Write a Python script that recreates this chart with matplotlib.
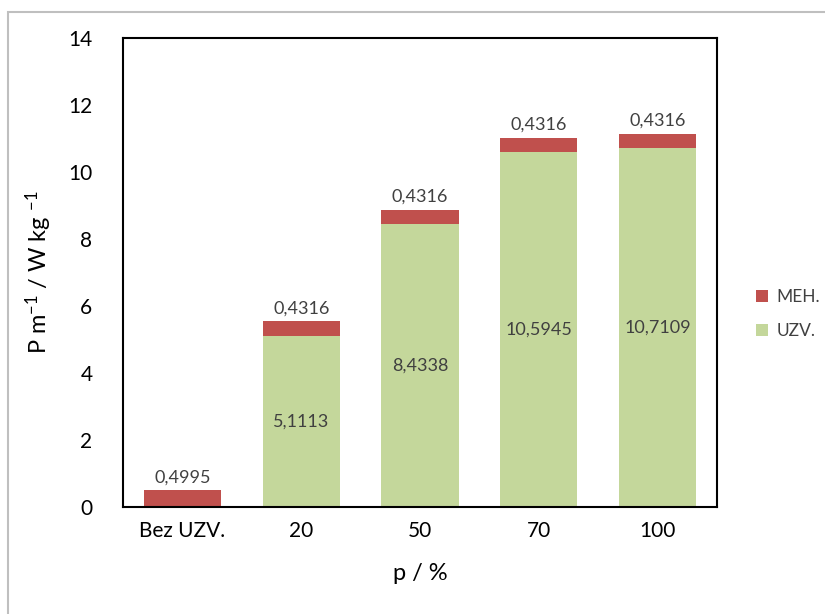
import matplotlib.pyplot as plt
from matplotlib.patches import Rectangle

# data
categories = ['Bez UZV.', '20', '50', '70', '100']
uzv = [0, 5.1113, 8.4338, 10.5945, 10.7109]
meh = [0.4995, 0.4316, 0.4316, 0.4316, 0.4316]

red = '#C0504D'
green = '#C4D79B'
txt = '#404040'

plt.rcParams['font.family'] = ['Lato', 'DejaVu Sans']
plt.rcParams['mathtext.fontset'] = 'custom'
plt.rcParams['mathtext.rm'] = 'Lato'
plt.rcParams['mathtext.it'] = 'Lato:italic'

fig = plt.figure(figsize=(8.25, 6.14), dpi=100)
ax = fig.add_axes([123/825, 1 - 507/614, (717 - 123)/825, (507 - 38)/614])

x = list(range(len(categories)))
w = 0.65
ax.bar(x, uzv, w, color=green, label='UZV.')
ax.bar(x, meh, w, bottom=uzv, color=red, label='MEH.')

def fmt(v):
    return f'{v:.4f}'.replace('.', ',')

for i in x:
    if uzv[i] > 0:
        ax.text(i, uzv[i] / 2, fmt(uzv[i]), ha='center', va='center',
                fontsize=13, color=txt)
    ax.text(i, uzv[i] + meh[i] + 0.15, fmt(meh[i]), ha='center', va='bottom',
            fontsize=13, color=txt)

ax.set_xlim(-0.5, 4.5)
ax.set_ylim(0, 14)
ax.set_yticks(range(0, 15, 2))
ax.set_xticks(x)
ax.set_xticklabels(categories)
ax.tick_params(length=0, labelsize=15, pad=10, labelcolor='black')
ax.tick_params(axis='y', pad=22)
for s in ax.spines.values():
    s.set_linewidth(1.5)
    s.set_color('black')

ax.set_xlabel('p / %', fontsize=17, labelpad=16)
ax.set_ylabel(r'P m$^{-1}$ / W kg $^{-1}$', fontsize=17, labelpad=10)

handles, labels = ax.get_legend_handles_labels()
fig.legend(handles[::-1], labels[::-1], loc='center left',
           bbox_to_anchor=(740/825, 1 - 314/614), frameon=False,
           fontsize=12.5, handlelength=0.7, handleheight=0.7,
           labelspacing=1.0, handletextpad=0.5, labelcolor=txt)

fig.patches.append(Rectangle((8/825, -0.1), 1.2, 1 - 12/614 + 0.1,
                             transform=fig.transFigure, fill=False,
                             edgecolor='#BFBFBF', linewidth=1.5))

fig.savefig('out.png', dpi=100)
